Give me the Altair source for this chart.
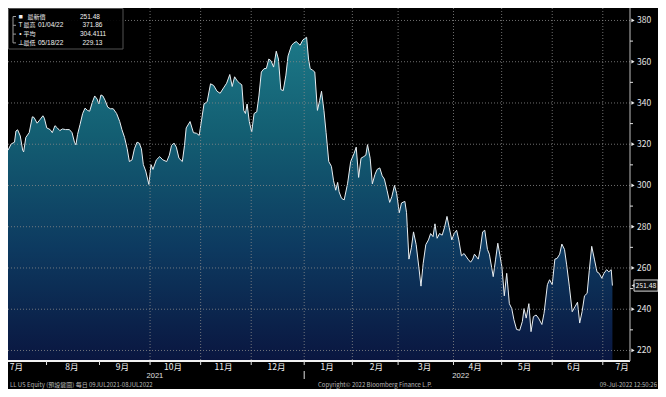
import altair as alt
import pandas as pd

# ---------------- data ----------------
# trading-session index since 09-Jul-2021 (Bloomberg trading-day axis)
session = [0.0, 1.3, 2.7, 3.3, 4.0, 5.1, 6.1, 6.5, 7.4, 8.8, 10.1, 10.8, 12.1, 13.2, 14.5, 15.1,
           16.1, 17.5, 18.4, 19.5, 20.5, 21.5, 22.6, 23.9, 25.5, 26.6, 27.6, 28.2, 28.9, 29.9, 31.0,
           32.0, 33.0, 33.9, 35.0, 36.0, 37.0, 37.7, 38.6, 39.4, 40.4, 41.4, 42.5, 43.7, 45.1, 46.4,
           47.3, 48.4, 49.5, 50.4, 51.5, 52.5, 53.6, 54.5, 55.4, 56.2, 57.2, 58.5, 59.4, 60.2, 61.6,
           63.0, 64.3, 65.9, 67.0, 67.9, 68.9, 69.9, 71.0, 72.4, 73.3, 74.0, 75.6, 77.0, 78.3, 79.4,
           80.4, 81.4, 82.7, 84.1, 85.4, 86.8, 88.1, 89.5, 90.8, 92.1, 93.1, 94.1, 95.2, 96.2, 97.1,
           97.9, 98.6, 99.3, 100.2, 101.2, 102.2, 103.3, 104.2, 105.2, 106.3, 107.3, 108.3, 109.2,
           110.3, 111.4, 112.3, 113.3, 114.3, 115.4, 116.3, 117.7, 118.6, 119.7, 120.4, 121.3, 122.4,
           124.0, 124.8, 125.5, 126.4, 127.4, 128.5, 129.4, 130.2, 131.2, 132.1, 133.2, 134.3, 135.2,
           136.1, 136.9, 137.5, 138.5, 139.6, 141.0, 142.3, 143.7, 144.6, 145.6, 146.6, 147.7, 148.6,
           149.3, 150.4, 151.3, 152.4, 153.3, 154.4, 155.4, 156.3, 157.4, 158.5, 159.4, 160.5, 161.4,
           162.5, 163.4, 164.8, 165.5, 166.5, 167.5, 168.4, 169.5, 170.6, 171.5, 172.4, 173.5, 174.6,
           175.5, 176.5, 177.3, 178.2, 179.2, 180.3, 181.3, 182.3, 183.2, 184.3, 185.3, 186.3, 187.2,
           188.3, 189.4, 191.0, 192.1, 193.0, 193.7, 195.3, 196.1, 197.1, 198.0, 199.1, 199.9, 201.5,
           202.5, 203.4, 204.2, 205.1, 206.1, 207.1, 208.2, 209.2, 210.1, 211.2, 212.5, 213.6, 214.3,
           215.2, 216.3, 217.2, 218.2, 219.3, 220.3, 221.7, 222.6, 224.0, 224.9, 226.0, 227.1, 228.0,
           229.1, 230.0, 231.1, 232.0, 233.1, 234.3, 235.4, 236.5, 237.4, 238.4, 239.4, 240.5, 241.4,
           242.4, 243.5, 244.6, 245.5, 246.6, 247.5, 248.6, 249.5, 250.5, 251.0]

price = [317.1, 320.1, 321.0, 326.4, 327.0, 324.0, 317.0, 316.3, 323.3, 325.6, 333.3, 333.0, 330.2,
         331.8, 333.8, 332.6, 327.9, 327.1, 325.6, 329.0, 327.9, 326.6, 327.4, 327.1, 327.1, 325.6,
         321.0, 319.7, 324.8, 329.5, 334.9, 337.5, 336.4, 336.0, 340.3, 343.4, 341.9, 339.5, 343.9,
         343.4, 341.1, 338.0, 337.2, 337.2, 334.9, 331.0, 327.1, 323.3, 317.8, 311.6, 312.4, 317.8,
         321.0, 320.5, 317.8, 310.1, 307.0, 300.5, 310.1, 307.8, 312.4, 314.0, 312.4, 311.6, 314.7,
         319.4, 320.6, 318.6, 313.2, 311.6, 319.4, 327.9, 331.0, 325.6, 325.3, 324.3, 331.8, 339.5,
         340.6, 349.3, 348.5, 345.7, 344.7, 347.3, 349.6, 353.8, 348.0, 352.7, 350.7, 349.6, 348.8,
         336.4, 334.9, 339.5, 331.0, 325.9, 334.9, 335.7, 343.4, 355.0, 356.6, 356.8, 361.3, 360.5,
         357.4, 365.1, 361.3, 346.5, 346.0, 353.5, 362.8, 367.8, 369.0, 369.8, 369.0, 368.0, 370.5,
         371.86, 361.3, 356.6, 356.0, 355.0, 336.4, 341.1, 345.7, 336.4, 325.6, 311.6, 309.3, 302.3,
         297.7, 301.5, 296.9, 293.8, 293.0, 300.8, 311.6, 315.5, 318.6, 303.9, 313.2, 314.0, 314.7,
         319.8, 313.2, 300.8, 305.4, 307.8, 308.5, 304.7, 303.1, 297.7, 291.8, 294.6, 300.0, 296.1,
         286.8, 291.5, 292.3, 286.8, 264.3, 269.8, 277.5, 271.3, 260.5, 251.2, 262.1, 271.3, 273.6,
         276.7, 275.2, 281.4, 274.4, 276.7, 275.9, 279.8, 285.0, 279.8, 273.6, 276.7, 278.3, 273.6,
         265.9, 267.0, 264.3, 262.8, 264.3, 266.7, 264.3, 269.0, 277.5, 278.3, 269.0, 266.7, 255.8,
         264.3, 272.0, 266.7, 260.5, 246.5, 257.4, 242.7, 240.3, 234.9, 230.2, 229.8, 234.1, 240.3,
         235.7, 242.7, 229.13, 236.4, 237.2, 235.7, 232.6, 238.0, 251.9, 254.3, 251.9, 264.3, 264.6,
         266.7, 271.6, 269.0, 261.5, 251.2, 238.8, 241.1, 243.4, 233.3, 238.8, 246.5, 247.7, 258.9,
         270.5, 264.3, 258.1, 257.4, 255.0, 257.4, 259.2, 258.1, 259.2, 251.48]

month_names = ["7月", "8月", "9月", "10月", "11月", "12月", "1月", "2月", "3月", "4月", "5月", "6月", "7月"]
month_label_session = [3.5, 26.5, 47.5, 68.5, 89.5, 111.5, 132.5, 153.0, 173.0, 194.0, 214.5, 235.0, 255.0]
month_start_session = [16, 38, 59, 80, 101, 123, 143, 162, 185, 205, 226, 247]
grid_month_session = [59, 80, 101, 123, 143, 162, 185, 205, 226, 247]
year_names = ["2021", "2022"]
year_label_session = [61.0, 188.0]
year_break_session = [123]

y_major = [220, 240, 260, 280, 300, 320, 340, 360, 380]
y_minor = [230, 250, 270, 290, 310, 330, 350, 370]

legend_icons = ["■", "T", "•", "⊥"]
legend_names = ["最新價", "最高", "平均", "最低"]
legend_dates = ["", "01/04/22", "", "05/18/22"]
legend_values = ["251.48", "371.86", "304.4111", "229.13"]

last_value = [251.48]
last_label = ["251.48"]

footer_left = "LL US Equity (預設鍵圖)   每日 09JUL2021-08JUL2022"
footer_mid = "Copyright© 2022 Bloomberg Finance L.P."
footer_right = "09-Jul-2022 12:50:26"

# ---------------- layout ----------------
W, H = 622, 353
RIGHT, BOTTOM = 28, 28
X_DOMAIN = [0, 258.3]
Y_DOMAIN = [214.9, 386.05]
FONT = "Noto Sans CJK TC"
LATIN = "Liberation Sans"
GRID = "#8a8a8a"

xs = alt.Scale(domain=X_DOMAIN, nice=False, zero=False)
ys = alt.Scale(domain=Y_DOMAIN, nice=False, zero=False)


def X(field):
    return alt.X(field, scale=xs, axis=None)


def Y(field):
    return alt.Y(field, scale=ys, axis=None)


series = pd.DataFrame({"session": session, "price": price})
one = pd.DataFrame({"k": [0]})

gradient = alt.Gradient(
    gradient="linear",
    stops=[alt.GradientStop(color="#1c7887", offset=0),
           alt.GradientStop(color="#135e72", offset=0.3),
           alt.GradientStop(color="#0d3a60", offset=0.65),
           alt.GradientStop(color="#0a1640", offset=1)],
    x1=1, x2=1, y1=0, y2=1)

area = alt.Chart(series).mark_area(color=gradient, clip=True).encode(
    x=X("session:Q"), y=Y("price:Q"), y2=alt.Y2(datum=Y_DOMAIN[0]))

line = alt.Chart(series).mark_line(color="#e8eef2", strokeWidth=1, clip=True).encode(
    x=X("session:Q"), y=Y("price:Q"))

hgrid = alt.Chart(pd.DataFrame({"v": y_major})).mark_rule(
    color=GRID, strokeDash=[1, 2], strokeWidth=1, opacity=0.8).encode(
    y=Y("v:Q"), x=alt.value(0), x2=alt.value(W))

vgrid = alt.Chart(pd.DataFrame({"s": grid_month_session})).mark_rule(
    color=GRID, strokeDash=[1, 2], strokeWidth=1, opacity=0.8).encode(
    x=X("s:Q"), y=alt.value(0), y2=alt.value(H))

# axes drawn by hand (Bloomberg style)
x_domain_line = alt.Chart(one).mark_rule(color="#f2f2f2", strokeWidth=2).encode(
    x=alt.value(0), x2=alt.value(W), y=alt.value(H))
x_ticks = alt.Chart(pd.DataFrame({"s": month_start_session})).mark_rule(color="#e0e0e0", strokeWidth=1).encode(
    x=X("s:Q"), y=alt.value(H), y2=alt.value(H + 4))
y_domain_line = alt.Chart(one).mark_rule(color="#bdbdbd", strokeWidth=1).encode(
    x=alt.value(W), y=alt.value(0), y2=alt.value(H))

arrows = alt.Chart(pd.DataFrame({"v": y_major})).mark_point(
    shape="triangle-right", filled=True, size=14, color="#f0f0f0", opacity=1).encode(
    y=Y("v:Q"), x=alt.value(W + 3))

y_labels = alt.Chart(pd.DataFrame({"v": y_major})).mark_text(
    font=FONT, fontSize=8.5, color="#e6e6e6", align="left", baseline="middle").encode(
    y=Y("v:Q"), x=alt.value(W + 7), text=alt.Text("v:Q", format="d"))

minor = alt.Chart(pd.DataFrame({"v": y_minor})).mark_rule(color="#e0e0e0", strokeWidth=1).encode(
    y=Y("v:Q"), x=alt.value(W), x2=alt.value(W + 3))

# month / year labels
months = alt.Chart(pd.DataFrame({"s": month_label_session, "m": month_names})).mark_text(
    font=FONT, fontSize=8.5, color="#f0f0f0", baseline="middle", align="center").encode(
    x=X("s:Q"), y=alt.value(H + 6), text="m:N")

years = alt.Chart(pd.DataFrame({"s": year_label_session, "y": year_names})).mark_text(
    font=LATIN, fontSize=7.5, color="#e0e0e0", baseline="middle", align="center").encode(
    x=X("s:Q"), y=alt.value(H + 15), text="y:N")

ybreak = alt.Chart(pd.DataFrame({"s": year_break_session})).mark_rule(color="#e0e0e0", strokeWidth=1).encode(
    x=X("s:Q"), y=alt.value(H + 10), y2=alt.value(H + 18))

# last value tag
last_df = pd.DataFrame({"v": last_value, "t": last_label})
tag_box = alt.Chart(last_df).transform_calculate(
    lo="datum.v - 2.7", hi="datum.v + 2.7").mark_rect(
    fill="#111111", stroke="#d8d8d8", strokeWidth=1).encode(
    y=Y("lo:Q"), y2="hi:Q", x=alt.value(W + 4), x2=alt.value(W + RIGHT))
tag_ptr = alt.Chart(last_df).mark_point(shape="triangle-left", filled=True, size=12, color="#d8d8d8",
                                        opacity=1).encode(
    y=Y("v:Q"), x=alt.value(W + 3))
tag_text = alt.Chart(last_df).mark_text(font=FONT, fontSize=6.8, color="#f5f5f5", align="left",
                                        baseline="middle").encode(
    y=Y("v:Q"), x=alt.value(W + 5.5), text="t:N")

# legend box (top-left)
LEG_FS = 6.5
LEG_TOP, LEG_STEP = 8.5, 8.8
legend_layers = [
    alt.Chart(one).mark_rect(fill="#000000", stroke="#5a5a5a", strokeWidth=1, opacity=0.92).encode(
        x=alt.value(0.5), x2=alt.value(115), y=alt.value(0.5), y2=alt.value(41)),
    alt.Chart(one).mark_rule(color="#9a9a9a", strokeWidth=1).encode(
        x=alt.value(5), y=alt.value(LEG_TOP), y2=alt.value(LEG_TOP + 3 * LEG_STEP)),
]
for i in range(len(legend_names)):
    yy = LEG_TOP + i * LEG_STEP
    legend_layers.append(alt.Chart(one).mark_rule(color="#9a9a9a", strokeWidth=1).encode(
        x=alt.value(5), x2=alt.value(8), y=alt.value(yy)))
    legend_layers.append(alt.Chart(one).mark_text(
        font=LATIN, fontSize=7 if i == 0 else LEG_FS, color="#f0f0f0", align="center", baseline="middle").encode(
        x=alt.value(12.5), y=alt.value(yy), text=alt.value(legend_icons[i])))
    legend_layers.append(alt.Chart(one).mark_text(
        font=FONT, fontSize=6, color="#f0f0f0", align="left", baseline="middle").encode(
        x=alt.value(19.5 if i == 0 else 15.5), y=alt.value(yy), text=alt.value(legend_names[i])))
    if legend_dates[i]:
        legend_layers.append(alt.Chart(one).mark_text(
            font=LATIN, fontSize=LEG_FS, color="#f0f0f0", align="left", baseline="middle").encode(
            x=alt.value(30), y=alt.value(yy), text=alt.value(legend_dates[i])))
    legend_layers.append(alt.Chart(one).mark_text(
        font=LATIN, fontSize=LEG_FS, color="#f0f0f0", align="left", baseline="middle").encode(
        x=alt.value(72 if i in (0, 2) else 74.5), y=alt.value(yy), text=alt.value(legend_values[i])))

# footer
FOOT_FS = 6
footer = [
    alt.Chart(one).mark_text(font=FONT, fontSize=FOOT_FS, color="#b8b8b8", align="left", baseline="middle").encode(
        x=alt.value(2), y=alt.value(H + 24), text=alt.value(footer_left)),
    alt.Chart(one).mark_text(font=FONT, fontSize=FOOT_FS, color="#b8b8b8", align="left", baseline="middle").encode(
        x=alt.value(310), y=alt.value(H + 24), text=alt.value(footer_mid)),
    alt.Chart(one).mark_text(font=FONT, fontSize=FOOT_FS, color="#b8b8b8", align="right", baseline="middle").encode(
        x=alt.value(W + RIGHT - 1), y=alt.value(H + 24), text=alt.value(footer_right)),
]

chart = alt.layer(
    area, line, hgrid, vgrid, x_domain_line, x_ticks, y_domain_line, arrows, y_labels, minor,
    months, years, ybreak, tag_box, tag_ptr, tag_text, *legend_layers, *footer
).properties(
    width=W, height=H,
    autosize=alt.AutoSizeParams(type="none"),
    padding={"left": 0, "top": 0, "right": RIGHT, "bottom": BOTTOM},
    background="#000000",
).configure_view(strokeWidth=0)

chart.save("out.html", embed_options={"renderer": "svg", "actions": False})
